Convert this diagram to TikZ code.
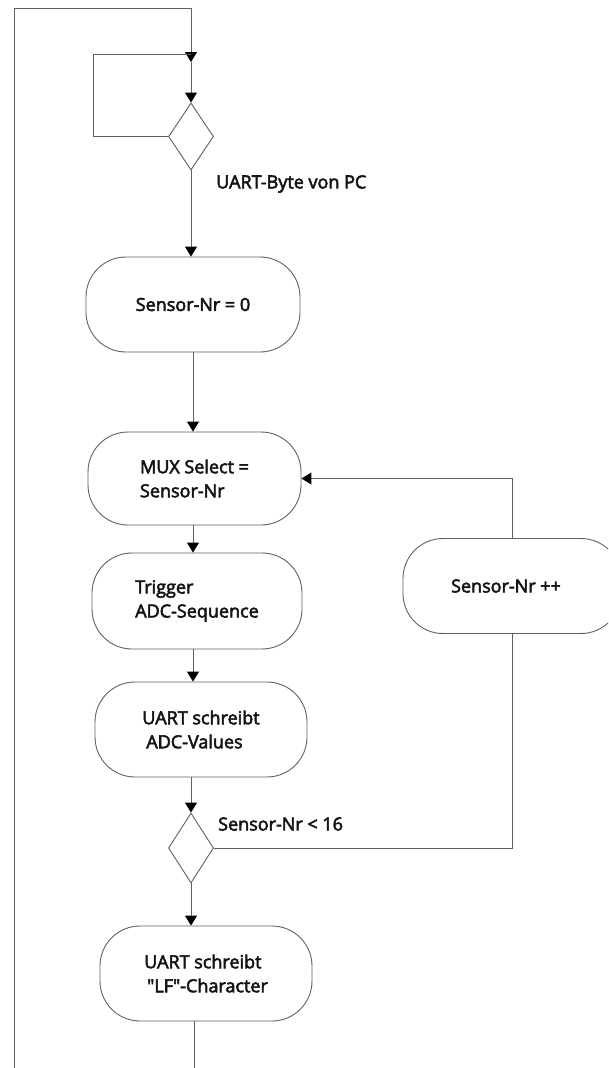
\documentclass[tikz,border=0pt]{standalone}
\usepackage{fontspec}
\newfontfamily\flowfont{Open Sans}[FakeBold=3]
\usetikzlibrary{arrows.meta,shapes.geometric}
\begin{document}
\begin{tikzpicture}[x=1pt,y=-1pt,
  line/.style={draw=black!62,line width=1pt},
  arr/.style={line,-{Triangle[width=12pt,length=10pt,fill=black,color=black]}},
  proc/.style={draw=black!62,line width=0.9pt,rounded corners=40pt,
    minimum width=212pt,minimum height=95pt,inner sep=0pt,
    font=\flowfont\fontsize{18}{24}\selectfont,text=black!92,align=left},
  dec/.style={draw=black!62,line width=0.9pt,diamond,inner sep=0pt,
    minimum width=45pt,minimum height=68pt,aspect=0.66},
  lbl/.style={font=\flowfont\fontsize{18}{24}\selectfont,text=black!92,anchor=west,inner sep=0pt}]
\useasboundingbox (0,0) rectangle (608,1068);
\begin{scope}
\clip (0,0) rectangle (608,1068);

% decisions
\node[dec,minimum width=45pt,minimum height=67pt] (d1) at (191,136.5) {};
\node[dec,minimum width=45pt,minimum height=70pt] (d2) at (191,848) {};

% process steps
\node[proc,minimum width=214pt] (s0) at (193,304.5) {Sensor-Nr = 0};
\node[proc,minimum width=213pt,minimum height=93pt] (mux) at (194.5,478.5) {MUX Select =\\Sensor-Nr};
\node[proc,minimum width=210pt,minimum height=96pt] (trig) at (197,601) {Trigger\\ADC-Sequence};
\node[proc] (adc) at (201,729.5) {UART schreibt\\\hspace*{4pt}ADC-Values};
\node[proc] (lf) at (206,973.5) {UART schreibt\\\hspace*{3pt}"LF"-Character};
\node[proc,minimum width=218pt,minimum height=95pt,align=center] (inc) at (512,586) {\hspace*{-12pt}Sensor-Nr ++};

% labels
\node[lbl] (l1) at (216,184) {UART-Byte von PC};
\node[lbl] (l2) at (218,824) {Sensor-Nr < 16};

% junction points
\coordinate (jtop) at (191,54);
\coordinate (tip) at (191,62);
\coordinate (bot) at (194,1068);

% outer loop back to the start
\draw[line] (bot |- lf.south) -- (bot);
\draw[arr] (14,1068) -- (14,8) -- (191,8) -- (tip);
% waiting loop
\draw[line] (d1.west) -- (93,136.5) -- (93,54) -- (jtop);
\draw[arr] (tip) -- (d1.north);

% main sequence
\draw[arr] (d1.south) -- (s0.north -| d1.south);
\draw[arr] (s0.south) -- (mux.north -| s0.south);
\draw[arr] (mux.south -| s0.south) -- (trig.north -| s0.south);
\draw[arr] (trig.south -| s0.south) -- (adc.north -| s0.south);
\draw[arr] (adc.south -| d2.north) -- (d2.north);
\draw[arr] (d2.south) -- (lf.north -| d2.south);

% repeat branch
\draw[line] (d2.east) -| (inc.south);
\draw[arr] (inc.north) |- (mux.east);
\end{scope}
\end{tikzpicture}
\end{document}
